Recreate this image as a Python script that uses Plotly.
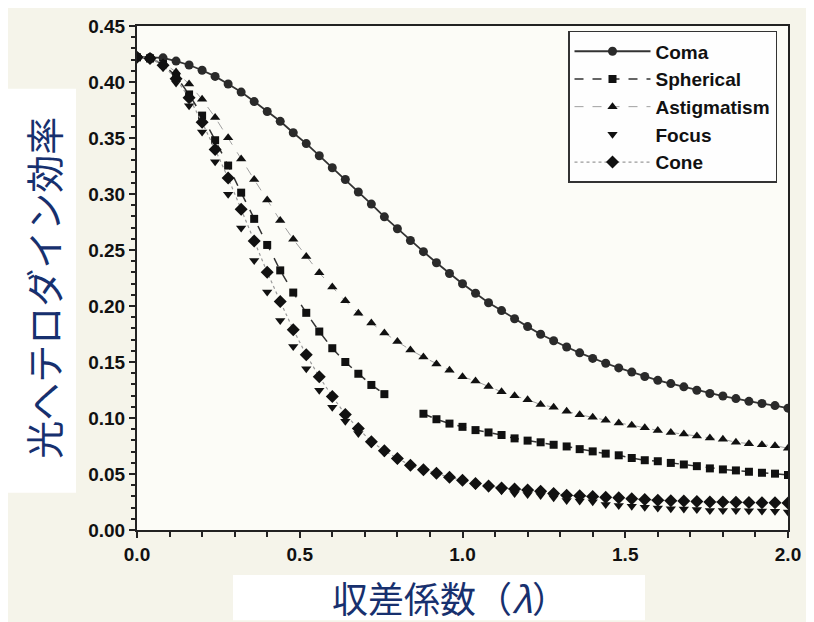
import plotly.graph_objects as go

# x values: aberration coefficient, step 0.04 from 0 to 2.0
x_vals = [round(i * 0.04, 2) for i in range(51)]

coma = [0.4225, 0.4219, 0.4216, 0.4187, 0.4152, 0.4105, 0.405, 0.3982, 0.391, 0.3825,
        0.3737, 0.3649, 0.3547, 0.345, 0.3342, 0.3234, 0.3129, 0.3018, 0.291, 0.2796,
        0.269, 0.2585, 0.2485, 0.2386, 0.229, 0.2199, 0.2114, 0.2029, 0.1959, 0.1886,
        0.1816, 0.1748, 0.169, 0.1634, 0.1582, 0.1532, 0.1489, 0.1447, 0.141, 0.1371,
        0.1336, 0.1307, 0.1278, 0.1248, 0.1219, 0.1196, 0.1173, 0.1149, 0.1129, 0.1111,
        0.1088]

spherical = [0.422, 0.421, 0.416, 0.405, 0.3889, 0.370, 0.348, 0.3254, 0.3012, 0.2778,
             0.2545, 0.2318, 0.212, 0.1939, 0.1772, 0.1623, 0.150, 0.1395, 0.1295, 0.1213,
             None, None, 0.1038, 0.0989, 0.095, 0.0921, 0.0892, 0.0871, 0.0848, 0.0818,
             0.0798, 0.0783, 0.0761, 0.0746, 0.0722, 0.0702, 0.0682, 0.0667, 0.0643, 0.0623,
             0.0614, 0.0599, 0.0585, 0.057, 0.055, 0.0541, 0.0532, 0.052, 0.0511, 0.0503,
             0.0491]

astigmatism = [0.422, 0.421, 0.417, 0.409, 0.3982, 0.3845, 0.3684, 0.3503, 0.3313, 0.3129,
               0.2947, 0.2763, 0.2596, 0.2441, 0.2296, 0.2169, 0.2046, 0.1936, 0.1848, 0.176,
               0.1682, 0.1608, 0.1544, 0.1482, 0.1427, 0.1368, 0.1331, 0.1281, 0.1234, 0.1199,
               0.1164, 0.112, 0.1096, 0.1061, 0.1029, 0.1006, 0.098, 0.0956, 0.0936, 0.0912,
               0.0889, 0.0871, 0.0857, 0.0839, 0.0822, 0.081, 0.0783, 0.0769, 0.0761, 0.0752,
               0.0731]

focus = [0.422, 0.421, 0.413, 0.399, 0.3787, 0.3553, 0.3289, 0.2997, 0.2696, 0.2406,
         0.2125, 0.1871, 0.1638, 0.1439, 0.1248, 0.1096, 0.0971, 0.0862, 0.077, 0.069,
         0.0625, 0.057, 0.053, 0.0495, 0.046, 0.0435, 0.040, 0.0375, 0.0351, 0.0327,
         0.0316, 0.0307, 0.0287, 0.0263, 0.0258, 0.0252, 0.0228, 0.0219, 0.0213, 0.0204,
         0.0196, 0.019, 0.0188, 0.0182, 0.0175, 0.0175, 0.0174, 0.0172, 0.0169, 0.0168,
         0.016]

cone = [0.422, 0.421, 0.415, 0.403, 0.386, 0.364, 0.3397, 0.3143, 0.2863, 0.258,
        0.2301, 0.2041, 0.1789, 0.1564, 0.1368, 0.1193, 0.1032, 0.0906, 0.0789, 0.0708,
        0.0638, 0.0579, 0.0538, 0.0506, 0.0471, 0.0445, 0.0415, 0.0392, 0.0375, 0.0366,
        0.0357, 0.0345, 0.0327, 0.031, 0.0305, 0.030, 0.0292, 0.0287, 0.028, 0.0272,
        0.0266, 0.0261, 0.0258, 0.0255, 0.0251, 0.0249, 0.0247, 0.0245, 0.0244, 0.0243,
        0.0242]

series_names = ["Coma", "Spherical", "Astigmatism", "Focus", "Cone"]
x_title = "収差係数（<i>λ</i>）"
y_title = "光ヘテロダイン効率"

fig = go.Figure()

fig.add_trace(go.Scatter(
    x=x_vals, y=coma, name=series_names[0], mode="lines+markers",
    line=dict(color="#333333", width=1.8),
    marker=dict(symbol="circle", size=9, color="#2a2a2a")))

fig.add_trace(go.Scatter(
    x=x_vals, y=spherical, name=series_names[1], mode="lines+markers",
    line=dict(color="#333333", width=1.5, dash="dash"),
    marker=dict(symbol="square", size=8, color="#111111"), connectgaps=False))

fig.add_trace(go.Scatter(
    x=x_vals, y=astigmatism, name=series_names[2], mode="lines+markers",
    line=dict(color="#a0a0a0", width=1, dash="dash"),
    marker=dict(symbol="triangle-up", size=9, color="#111111")))

fig.add_trace(go.Scatter(
    x=x_vals, y=focus, name=series_names[3], mode="markers",
    marker=dict(symbol="triangle-down", size=9, color="#111111")))

fig.add_trace(go.Scatter(
    x=x_vals, y=cone, name=series_names[4], mode="lines+markers",
    line=dict(color="#9a9a9a", width=1.2, dash="dot"),
    marker=dict(symbol="diamond", size=10, color="#111111")))

tick_font = dict(family="Liberation Sans, Arial", size=19, color="#111111", weight="bold")

fig.update_xaxes(
    range=[0, 2.0], dtick=0.5, tickformat=".1f", tick0=0,
    showgrid=False, zeroline=False,
    showline=True, mirror=True, linecolor="#222222", linewidth=2,
    ticks="outside", ticklen=6, tickwidth=1.5, tickcolor="#222222",
    minor=dict(dtick=0.1, ticks="outside", ticklen=5, tickcolor="#222222", showgrid=False),
    tickfont=tick_font, ticklabeloverflow="allow")

fig.update_yaxes(
    range=[0, 0.45], dtick=0.05, tickformat=".2f", tick0=0,
    showgrid=False, zeroline=False,
    showline=True, mirror=True, linecolor="#222222", linewidth=2,
    ticks="outside", ticklen=6, tickwidth=1.5, tickcolor="#222222",
    minor=dict(dtick=0.01, ticks="outside", ticklen=4, tickcolor="#222222", showgrid=False),
    tickfont=tick_font, ticklabeloverflow="allow")

# page has an 8px body margin, so the figure is drawn 8px smaller and
# all page-pixel positions are offset by OFF
OFF = 8
W, H = 814 - OFF, 622 - OFF
L, T = 137 - OFF, 16 - OFF
R, B = 26, 92
pw, ph = W - L - R, H - T - B

def px(xp):
    return (xp - OFF - L) / pw

def py(yp):
    return (H - B - (yp - OFF)) / ph

fig.add_shape(type="rect", xref="paper", yref="paper",
              x0=px(8), x1=px(76), y0=py(492), y1=py(80),
              fillcolor="white", line=dict(width=0), layer="above")
fig.add_shape(type="rect", xref="paper", yref="paper",
              x0=px(233), x1=px(645), y0=py(622), y1=py(576),
              fillcolor="white", line=dict(width=0), layer="above")

title_color = "#17306e"
fig.add_annotation(text=y_title, xref="paper", yref="paper",
                   x=px(43), y=py(283), showarrow=False, textangle=-90,
                   font=dict(family="Noto Sans CJK JP", size=38, color=title_color),
                   xanchor="center", yanchor="middle")
fig.add_annotation(text=x_title, xref="paper", yref="paper",
                   x=px(450), y=py(598), showarrow=False,
                   font=dict(family="Noto Sans CJK JP", size=36, color=title_color),
                   xanchor="center", yanchor="middle")

fig.update_layout(
    width=W, height=H,
    margin=dict(l=L, r=R, t=T, b=B),
    paper_bgcolor="#f5f4ea",
    plot_bgcolor="#fcfcf7",
    showlegend=True,
    legend=dict(x=px(568), y=py(21), xanchor="left", yanchor="top",
                bgcolor="#fefefe", bordercolor="#333333", borderwidth=1.5,
                font=dict(family="Liberation Sans, Arial", size=19, color="#111111", weight="bold"),
                tracegroupgap=0, itemwidth=76),
)

fig.write_html("out.html")
